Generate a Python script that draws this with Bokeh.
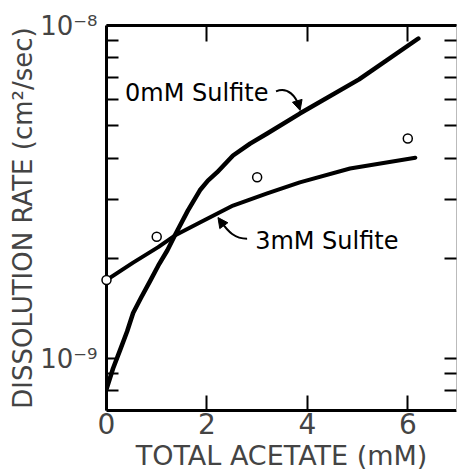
from bokeh.plotting import figure
from bokeh.models import (LogAxis, LinearAxis, FixedTicker, Arrow, NormalHead,
                          CustomJSTickFormatter, CustomLabelingPolicy)
from bokeh.core.properties import value
from bokeh.embed import file_html
from bokeh.resources import INLINE

# ---- data ----
acetate_0 = [0, 0.13, 0.27, 0.41, 0.53, 0.69, 0.87, 1.03, 1.21, 1.36, 1.62, 1.86, 2.02,
             2.20, 2.52, 2.86, 3.20, 3.85, 5.03, 6.21]
rate_0 = [8.1e-10, 9.33e-10, 1.06e-9, 1.205e-9, 1.37e-9, 1.525e-9, 1.71e-9, 1.90e-9, 2.11e-9,
          2.34e-9, 2.78e-9, 3.20e-9, 3.42e-9, 3.62e-9, 4.07e-9, 4.42e-9, 4.74e-9, 5.44e-9,
          6.89e-9, 9.14e-9]

acetate_3 = [0, 0.53, 1.03, 1.36, 1.86, 2.52, 3.20, 3.85, 4.85, 6.15]
rate_3 = [1.72e-9, 1.94e-9, 2.16e-9, 2.34e-9, 2.56e-9, 2.88e-9, 3.13e-9, 3.38e-9, 3.72e-9, 4.01e-9]

acetate_pts = [0, 1, 3, 6]
rate_pts = [1.72e-9, 2.32e-9, 3.50e-9, 4.58e-9]

x_ticks = [0, 2, 4, 6]
top_ticks = [2, 4, 6]
y_ticks = [8e-10, 9e-10, 1e-9, 2e-9, 3e-9, 4e-9, 5e-9, 6e-9, 7e-9, 8e-9, 9e-9, 1e-8]
label_0 = "0mM Sulfite"
label_3 = "3mM Sulfite"

FONT = "DejaVu Sans"

p = figure(width=457, height=475, x_range=(0, 6.97), y_range=(6.98e-10, 1e-8),
           y_axis_type="log", output_backend="svg", toolbar_location=None,
           min_border_left=106, min_border_right=1, min_border_top=25, min_border_bottom=65)
p.outline_line_color = None
p.grid.visible = False
p.background_fill_color = "white"
p.border_fill_color = "white"

no_labels = CustomLabelingPolicy(code="""
    for (const i of Array.from(indices)) indices.unset(i);
    return indices;
""")
decade_labels = CustomLabelingPolicy(code="""
    for (const i of Array.from(indices)) { if (i !== 2 && i !== 11) indices.unset(i); }
    return indices;
""")

# bottom axis
xa = p.xaxis[0]
xa.ticker = FixedTicker(ticks=x_ticks)
xa.major_tick_in = 15
xa.major_tick_out = 0
xa.major_tick_line_width = 2
xa.axis_line_width = 3
xa.major_label_text_font = FONT
xa.major_label_text_font_size = "28px"
xa.major_label_standoff = 2
xa.axis_label = "TOTAL ACETATE (mM)"
xa.axis_label_text_font = FONT
xa.axis_label_text_font_size = "27px"
xa.axis_label_text_font_style = "normal"
xa.axis_label_standoff = 3

# left axis
ya = p.yaxis[0]
ya.ticker = FixedTicker(ticks=y_ticks)
ya.formatter = CustomJSTickFormatter(code="""
    const e = Math.round(Math.log10(tick) * 1000) / 1000;
    if (e === -8) return "10\u207b\u2078";
    if (e === -9) return "10\u207b\u2079";
    return "";
""")
ya.major_label_policy = decade_labels
ya.major_tick_in = 12
ya.major_tick_out = 0
ya.major_tick_line_width = 2
ya.axis_line_width = 3
ya.major_label_text_font = FONT
ya.major_label_text_font_size = "26px"
ya.major_label_standoff = 9
ya.axis_label = "DISSOLUTION RATE (cm\u00b2/sec)"
ya.axis_label_text_font = FONT
ya.axis_label_text_font_size = "26px"
ya.axis_label_text_font_style = "normal"
ya.axis_label_standoff = -1

# top axis (ticks only)
top = LinearAxis(ticker=FixedTicker(ticks=top_ticks), major_tick_in=16, major_tick_out=0,
                 major_tick_line_width=2, axis_line_width=3,
                 major_label_policy=no_labels, major_label_text_font_size="0px",
                 major_label_standoff=0)
p.add_layout(top, "above")

# right axis (ticks only)
right = LogAxis(ticker=FixedTicker(ticks=y_ticks), major_tick_in=12, major_tick_out=0,
                major_tick_line_width=2, axis_line_width=1, axis_line_color="#bbbbbb",
                major_label_policy=no_labels, major_label_text_font_size="0px",
                major_label_standoff=0)
p.add_layout(right, "right")

# curves
p.line(acetate_0, rate_0, line_width=4.5, line_color="black", line_join="round", line_cap="round")
p.line(acetate_3, rate_3, line_width=4, line_color="black", line_join="round", line_cap="round")
p.scatter(acetate_pts, rate_pts, size=9, fill_color="white", line_color="black", line_width=1.5,
          level="overlay")

# curve labels
p.text(x=[0.37], y=[6.25e-9], text=[label_0], text_font=value(FONT), text_font_size="24px",
       text_align="left", text_baseline="middle", text_color="black")
p.text(x=[2.96], y=[2.25e-9], text=[label_3], text_font=value(FONT), text_font_size="24px",
       text_align="left", text_baseline="middle", text_color="black")

# label arrows (annotation anchors in data units)
p.bezier(x0=[3.376], y0=[6.34e-9], x1=[3.835], y1=[5.71e-9],
         cx0=[3.616], cy0=[6.56e-9], cx1=[3.775], cy1=[6.12e-9],
         line_width=2, line_color="black")
p.add_layout(Arrow(end=NormalHead(size=10, fill_color="black", line_color="black"),
                   x_start=3.815, y_start=5.83e-9, x_end=3.855, y_end=5.56e-9,
                   line_width=2, line_color="black"))

p.bezier(x0=[2.80], y0=[2.29e-9], x1=[2.28], y1=[2.58e-9],
         cx0=[2.56], cy0=[2.29e-9], cx1=[2.42], cy1=[2.40e-9],
         line_width=2, line_color="black")
p.add_layout(Arrow(end=NormalHead(size=10, fill_color="black", line_color="black"),
                   x_start=2.30, y_start=2.55e-9, x_end=2.22, y_end=2.65e-9,
                   line_width=2, line_color="black"))

open("out.html", "w").write(file_html(p, INLINE))
